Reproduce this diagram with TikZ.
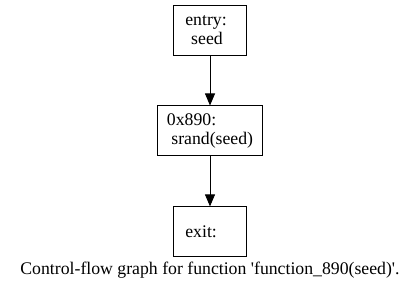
\documentclass[tikz,border=0pt]{standalone}
\usepackage{fontspec}
\setmainfont{Liberation Serif}
\usetikzlibrary{arrows.meta, positioning}

\tikzset{
  block/.style={draw, line width=0.7pt, minimum width=55pt, minimum height=37.5pt,
    align=left, inner xsep=7pt, inner ysep=3pt, font=\fontsize{13.3}{14.5}\selectfont},
  narrow/.style={text width=37pt},
  flow/.style={-{Triangle[length=9pt, width=7.5pt]}, line width=0.7pt}
}

\begin{document}
\begin{tikzpicture}[x=0.75pt, y=-0.75pt, node distance=37.5pt]
      \useasboundingbox (0, 0) rectangle (420, 291);

      \node[block, narrow] (entry) at (210, 30) {entry:\\\ seed};
      \node[block, below=of entry] (op) {0x890:\\\ srand(seed)};
      \node[block, narrow, below=of op] (exit) {exit:};

      \draw[flow] (entry) -- (op);
      \draw[flow] (op) -- (exit);

      \node[font=\fontsize{13.3}{14.5}\selectfont] (caption) at (210, 270)
        {Control-flow graph for function \textquotesingle function\_890(seed)\textquotesingle.};

    \end{tikzpicture}
\end{document}
